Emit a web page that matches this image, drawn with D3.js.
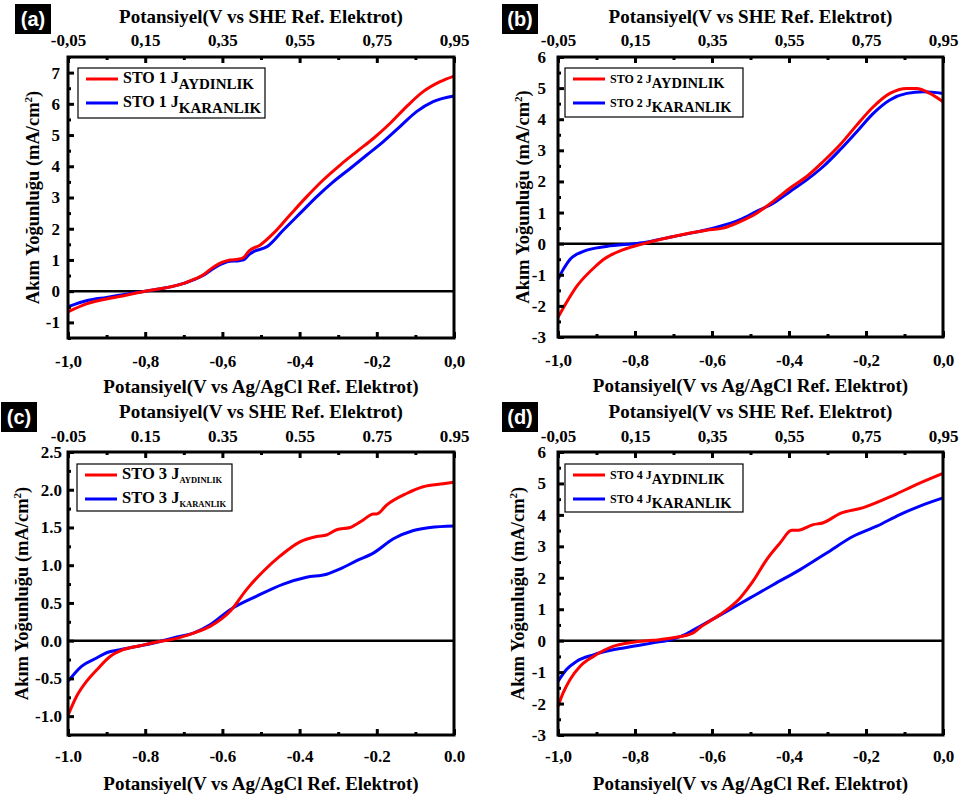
<!DOCTYPE html>
<html>
<head>
<meta charset="utf-8">
<script src="https://cdn.jsdelivr.net/npm/d3@7"></script>
<style>
  body { margin: 0; background: #fff; }
</style>
</head>
<body>
<div id="chart"></div>
<script>
// ---- data (potential vs Ag/AgCl, current density mA/cm2) ----
const sto1Light = [[-1.0,-0.66],[-0.95,-0.4],[-0.9,-0.25],[-0.85,-0.13],[-0.8,0.0],[-0.75,0.1],[-0.7,0.25],[-0.67,0.4],[-0.65,0.52],[-0.62,0.8],[-0.6,0.93],[-0.58,1.0],[-0.56,1.02],[-0.545,1.08],[-0.53,1.3],[-0.503,1.47],[-0.468,1.85],[-0.425,2.44],[-0.382,3.02],[-0.339,3.56],[-0.295,4.04],[-0.252,4.47],[-0.209,4.89],[-0.166,5.37],[-0.123,5.91],[-0.08,6.39],[-0.036,6.71],[0.0,6.89]];
const sto1Dark = [[-1.0,-0.5],[-0.95,-0.3],[-0.9,-0.2],[-0.85,-0.1],[-0.8,0.0],[-0.75,0.1],[-0.7,0.25],[-0.65,0.5],[-0.62,0.75],[-0.6,0.88],[-0.58,0.96],[-0.56,0.97],[-0.545,1.0],[-0.53,1.18],[-0.52,1.26],[-0.485,1.42],[-0.442,1.96],[-0.399,2.49],[-0.356,3.02],[-0.313,3.5],[-0.269,3.93],[-0.226,4.36],[-0.183,4.79],[-0.14,5.27],[-0.097,5.75],[-0.054,6.07],[0.0,6.25]];

const sto2Light = [[-1.0,-2.37],[-0.95,-1.35],[-0.9,-0.7],[-0.882,-0.51],[-0.83,-0.19],[-0.787,-0.03],[-0.7,0.23],[-0.614,0.43],[-0.571,0.5],[-0.527,0.71],[-0.484,0.98],[-0.441,1.36],[-0.397,1.79],[-0.354,2.16],[-0.311,2.64],[-0.268,3.17],[-0.224,3.81],[-0.181,4.4],[-0.138,4.83],[-0.094,4.99],[-0.068,4.99],[-0.034,4.83],[0.0,4.56]];
const sto2Dark = [[-1.0,-1.15],[-0.985,-0.8],[-0.969,-0.51],[-0.934,-0.25],[-0.874,-0.09],[-0.787,0.02],[-0.7,0.23],[-0.597,0.5],[-0.527,0.77],[-0.484,1.04],[-0.441,1.3],[-0.397,1.68],[-0.354,2.05],[-0.311,2.48],[-0.268,3.01],[-0.224,3.6],[-0.181,4.19],[-0.138,4.62],[-0.094,4.83],[-0.051,4.88],[0.0,4.83]];

const sto3Light = [[-1.0,-0.99],[-0.978,-0.74],[-0.952,-0.54],[-0.926,-0.39],[-0.891,-0.21],[-0.857,-0.12],[-0.813,-0.067],[-0.762,-0.01],[-0.727,0.02],[-0.675,0.1],[-0.632,0.19],[-0.58,0.39],[-0.537,0.68],[-0.494,0.92],[-0.451,1.12],[-0.399,1.31],[-0.356,1.38],[-0.33,1.4],[-0.304,1.47],[-0.269,1.5],[-0.235,1.6],[-0.209,1.68],[-0.2,1.68],[-0.174,1.8],[-0.123,1.95],[-0.08,2.04],[-0.028,2.08],[0.0,2.1]];
const sto3Dark = [[-1.0,-0.54],[-0.965,-0.34],[-0.926,-0.23],[-0.9,-0.16],[-0.865,-0.12],[-0.813,-0.067],[-0.762,-0.01],[-0.718,0.05],[-0.675,0.1],[-0.632,0.21],[-0.58,0.41],[-0.511,0.59],[-0.442,0.75],[-0.382,0.84],[-0.33,0.88],[-0.295,0.95],[-0.252,1.06],[-0.209,1.16],[-0.157,1.35],[-0.105,1.46],[-0.062,1.5],[0.0,1.52]];

const sto4Light = [[-1.0,-2.09],[-0.987,-1.67],[-0.969,-1.24],[-0.943,-0.82],[-0.908,-0.5],[-0.857,-0.18],[-0.805,-0.05],[-0.753,0.01],[-0.701,0.09],[-0.649,0.25],[-0.631,0.42],[-0.579,0.83],[-0.527,1.36],[-0.493,1.9],[-0.458,2.58],[-0.423,3.11],[-0.393,3.51],[-0.38,3.51],[-0.337,3.69],[-0.311,3.75],[-0.268,4.04],[-0.207,4.23],[-0.129,4.62],[-0.068,4.97],[0.0,5.32]];
const sto4Dark = [[-1.0,-1.3],[-0.978,-0.92],[-0.952,-0.66],[-0.908,-0.45],[-0.857,-0.29],[-0.805,-0.18],[-0.753,-0.07],[-0.701,0.05],[-0.666,0.22],[-0.631,0.46],[-0.562,0.93],[-0.501,1.36],[-0.441,1.78],[-0.371,2.26],[-0.302,2.79],[-0.233,3.32],[-0.172,3.64],[-0.112,4.01],[-0.06,4.28],[0.0,4.54]];

// tick labels
const agTicksComma = ["-1,0","-0,8","-0,6","-0,4","-0,2","0,0"];
const agTicksDot = ["-1.0","-0.8","-0.6","-0.4","-0.2","0.0"];
const sheTicksComma = ["-0,05","0,15","0,35","0,55","0,75","0,95"];
const sheTicksDot = ["-0.05","0.15","0.35","0.55","0.75","0.95"];
const yTicksA = ["-1","0","1","2","3","4","5","6","7"];
const yTicksB = ["-3","-2","-1","0","1","2","3","4","5","6"];
const yTicksC = ["-1.0","-0.5","0.0","0.5","1.0","1.5","2.0","2.5"];
const yTicksD = ["-3","-2","-1","0","1","2","3","4","5","6"];

const legendA = ["STO 1 J", "AYDINLIK", "KARANLIK"];
const legendB = ["STO 2 J", "AYDINLIK", "KARANLIK"];
const legendC = ["STO 3 J", "AYDINLIK", "KARANLIK"];
const legendD = ["STO 4 J", "AYDINLIK", "KARANLIK"];

const topTitle = "Potansiyel(V vs SHE Ref. Elektrot)";
const bottomTitle = "Potansiyel(V vs Ag/AgCl Ref. Elektrot)";

const SERIF = "'Liberation Serif', 'Times New Roman', serif";
const num = (s) => +s.replace(",", ".");

const svg = d3.select("#chart").append("svg")
  .attr("width", 962).attr("height", 798);

function drawPanel(p) {
  const g = svg.append("g");
  const x = d3.scaleLinear().domain([-1, 0]).range([p.left, p.right]);
  const xTop = d3.scaleLinear().domain([-0.05, 0.95]).range([p.left, p.right]);
  const y = d3.scaleLinear().domain(p.yDomain).range([p.bottom, p.top]);

  // zero line
  g.append("line")
    .attr("x1", p.left).attr("x2", p.right)
    .attr("y1", y(0)).attr("y2", y(0))
    .attr("stroke", "#000").attr("stroke-width", 2.5);

  // curves
  const line = d3.line().x((d) => x(d[0])).y((d) => y(d[1])).curve(d3.curveMonotoneX);
  g.append("path").datum(p.dark).attr("d", line)
    .attr("fill", "none").attr("stroke", "#0000ff").attr("stroke-width", 3);
  g.append("path").datum(p.light).attr("d", line)
    .attr("fill", "none").attr("stroke", "#ff0000").attr("stroke-width", 3);

  // axes (ticks inside)
  const bt = p.xLabels.map(num);
  const tt = p.topLabels.map(num);
  const yt = p.yLabels.map(num);
  const bottomAxis = g.append("g").attr("transform", `translate(0,${p.bottom})`)
    .call(d3.axisBottom(x).tickValues(bt).tickSize(-6).tickPadding(p.btPad)
      .tickFormat((d, i) => p.xLabels[i]));
  bottomAxis.append("g").call(d3.axisBottom(x).tickValues(bt.slice(0, -1).map((v) => v + 0.1)).tickSize(-3).tickFormat(""));
  const topAxis = g.append("g").attr("transform", `translate(0,${p.top})`)
    .call(d3.axisTop(xTop).tickValues(tt).tickSize(-6).tickPadding(p.ttPad)
      .tickFormat((d, i) => p.topLabels[i]));
  topAxis.append("g").call(d3.axisTop(xTop).tickValues(tt.slice(0, -1).map((v) => v + 0.1)).tickSize(-3).tickFormat(""));
  const step = yt[1] - yt[0];
  const yMinor = d3.range(p.yDomain[0], p.yDomain[1] + 1e-9, step / 2)
    .filter((v) => !yt.some((t) => Math.abs(t - v) < 1e-6));
  const leftAxis = g.append("g").attr("transform", `translate(${p.left},0)`)
    .call(d3.axisLeft(y).tickValues(yt).tickSize(-6).tickPadding(p.ytPad)
      .tickFormat((d, i) => p.yLabels[i]));
  leftAxis.append("g").call(d3.axisLeft(y).tickValues(yMinor).tickSize(-3).tickFormat(""));
  g.selectAll(".domain").remove();
  g.selectAll(".tick line").attr("stroke", "#000").attr("stroke-width", 3);
  g.selectAll(".tick text").style("font-size", "17px");

  // frame
  g.append("rect")
    .attr("x", p.left).attr("y", p.top)
    .attr("width", p.right - p.left).attr("height", p.bottom - p.top)
    .attr("fill", "none").attr("stroke", "#000").attr("stroke-width", 3);

  // titles
  const cx = (p.left + p.right) / 2;
  g.append("text").attr("x", cx).attr("y", p.top - 34)
    .attr("text-anchor", "middle").style("font-size", "19px").text(topTitle);
  g.append("text").attr("x", cx).attr("y", p.bottom + 55)
    .attr("text-anchor", "middle").style("font-size", "19px").text(bottomTitle);
  const yl = g.append("text")
    .attr("transform", `translate(${p.yTitleX},${(p.top + p.bottom) / 2}) rotate(-90)`)
    .attr("text-anchor", "middle").attr("dy", "0.35em").style("font-size", "18.5px");
  yl.append("tspan").text(p.yTitle);
  yl.append("tspan").attr("dy", -7).style("font-size", "11px").text("2");
  yl.append("tspan").attr("dy", 7).text(")");

  // legend
  const lg = p.lg;
  g.append("rect").attr("x", lg.x).attr("y", lg.y).attr("width", lg.w).attr("height", lg.h)
    .attr("fill", "#fff").attr("stroke", "#000").attr("stroke-width", 1.2);
  [["#ff0000", p.legend[1]], ["#0000ff", p.legend[2]]].forEach((it, i) => {
    const ly = lg.y + 11 + i * 24;
    g.append("line").attr("x1", lg.x + 8).attr("x2", lg.x + 40).attr("y1", ly).attr("y2", ly)
      .attr("stroke", it[0]).attr("stroke-width", 3);
    const t = g.append("text").attr("x", lg.x + 45).attr("y", ly + 4).style("font-size", lg.fs + "px");
    t.append("tspan").text(p.legend[0]);
    t.append("tspan").attr("dy", lg.sd).style("font-size", lg.ss + "px").text(it[1]);
  });

  g.selectAll("text")
    .style("font-family", SERIF).style("font-weight", "bold").style("fill", "#000");

  // panel letter
  g.append("rect").attr("x", p.tagX).attr("y", p.tagY).attr("width", 36).attr("height", 30).attr("fill", "#000");
  g.append("text").attr("x", p.tagX + 18).attr("y", p.tagY + 22)
    .attr("text-anchor", "middle")
    .style("font-family", "'Liberation Sans', Arial, sans-serif").style("font-weight", "bold")
    .style("font-size", "20px").style("fill", "#fff")
    .text(p.tag);
}

drawPanel({
  tag: "(a)", tagX: 15, tagY: 4,
  left: 68, right: 454, top: 57, bottom: 338, yDomain: [-1.5, 7.5],
  xLabels: agTicksComma, topLabels: sheTicksComma, yLabels: yTicksA,
  btPad: 17, ttPad: 11, ytPad: 8, yTitleX: 33,
  yTitle: "Akım Yoğunluğu  (mA/cm",
  light: sto1Light, dark: sto1Dark, legend: legendA,
  lg: { x: 78, y: 68, w: 187, h: 50, fs: 16, ss: 15, sd: 6 }
});
drawPanel({
  tag: "(b)", tagX: 502, tagY: 4,
  left: 558, right: 943, top: 57, bottom: 337, yDomain: [-3, 6],
  xLabels: agTicksComma, topLabels: sheTicksComma, yLabels: yTicksB,
  btPad: 17, ttPad: 11, ytPad: 12, yTitleX: 523,
  yTitle: "Akım Yoğunluğu (mA/cm",
  light: sto2Light, dark: sto2Dark, legend: legendB,
  lg: { x: 565, y: 68, w: 178, h: 49, fs: 12, ss: 14.5, sd: 5 }
});
drawPanel({
  tag: "(c)", tagX: 1, tagY: 402,
  left: 68, right: 454, top: 452, bottom: 735, yDomain: [-1.25, 2.5],
  xLabels: agTicksDot, topLabels: sheTicksDot, yLabels: yTicksC,
  btPad: 15, ttPad: 10, ytPad: 6, yTitleX: 22,
  yTitle: "Akım Yoğunluğu  (mA/cm",
  light: sto3Light, dark: sto3Dark, legend: legendC,
  lg: { x: 77, y: 464, w: 155, h: 47, fs: 16.5, ss: 8.5, sd: 4 }
});
drawPanel({
  tag: "(d)", tagX: 502, tagY: 402,
  left: 558, right: 943, top: 452, bottom: 735, yDomain: [-3, 6],
  xLabels: agTicksComma, topLabels: sheTicksComma, yLabels: yTicksD,
  btPad: 15, ttPad: 10, ytPad: 12, yTitleX: 518,
  yTitle: "Akım Yoğunluğu (mA/cm",
  light: sto4Light, dark: sto4Dark, legend: legendD,
  lg: { x: 565, y: 464, w: 178, h: 48, fs: 12, ss: 14.5, sd: 5 }
});
</script>
</body>
</html>
